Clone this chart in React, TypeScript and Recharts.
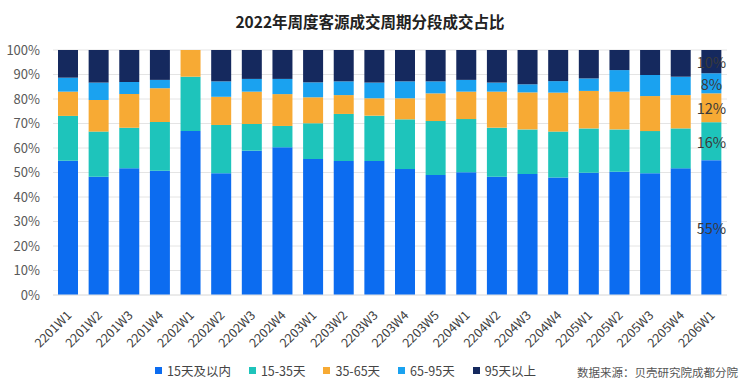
import { BarChart, Bar, XAxis, YAxis, CartesianGrid, Legend, LabelList } from "recharts";

const categories = [
  "2201W1", "2201W2", "2201W3", "2201W4", "2202W1", "2202W2", "2202W3", "2202W4",
  "2203W1", "2203W2", "2203W3", "2203W4", "2203W5", "2204W1", "2204W2", "2204W3",
  "2204W4", "2205W1", "2205W2", "2205W3", "2205W4", "2206W1",
];

const within15 = [54.8, 48.3, 51.7, 50.7, 66.9, 49.7, 58.9, 60.3, 55.5, 54.7, 54.7, 51.4, 49.0, 50.1, 48.3, 49.4, 48.0, 49.9, 50.3, 49.7, 51.7, 55.1];
const days15to35 = [18.3, 18.4, 16.6, 19.9, 22.2, 19.7, 10.9, 8.7, 14.6, 19.2, 18.5, 20.3, 22.0, 21.7, 20.0, 18.2, 18.7, 18.1, 17.3, 17.2, 16.3, 15.5];
const days35to65 = [9.9, 12.9, 13.7, 13.8, 10.9, 11.5, 13.2, 13.0, 10.6, 7.7, 7.1, 8.6, 11.3, 11.2, 14.7, 15.1, 15.9, 15.3, 15.4, 14.3, 13.6, 11.8];
const days65to95 = [5.7, 7.1, 4.9, 3.4, 0, 6.3, 5.2, 6.2, 6.1, 5.6, 6.4, 6.9, 4.9, 4.8, 3.7, 3.3, 4.7, 5.1, 8.8, 8.6, 7.5, 8.2];
const over95 = [11.3, 13.3, 13.1, 12.2, 0, 12.8, 11.8, 11.8, 13.2, 12.8, 13.3, 12.8, 12.8, 12.2, 13.3, 14.0, 12.7, 11.6, 8.2, 10.2, 10.9, 9.5];

const seriesNames = ["15天及以内", "15-35天", "35-65天", "65-95天", "95天以上"];
const seriesKeys = ["a", "b", "c", "d", "e"];
const seriesValues = [within15, days15to35, days35to65, days65to95, over95];
const seriesColors = ["#0c6cf0", "#1ec4bb", "#f7aa34", "#1aa2f0", "#15295e"];
const yTicks = [0, 0.1, 0.2, 0.3, 0.4, 0.5, 0.6, 0.7, 0.8, 0.9, 1];

const lastIndex = categories.length - 1;

// values for the stacks, plus a label field only on the last week
const data = categories.map((name, i) => {
  const row: any = { name };
  seriesKeys.forEach((k, s) => {
    row[k] = seriesValues[s][i];
    row[k + "Label"] = i === lastIndex ? Math.round(seriesValues[s][i]) + "%" : undefined;
  });
  return row;
});

const FONT = "'Noto Sans CJK SC', 'Noto Sans', sans-serif";

const XTick = (props: any) => {
  const { x, y, payload } = props;
  return (
    <g transform={`translate(${x + 4},${y + 19})`}>
      <text x={0} y={0} textAnchor="end" transform="rotate(-45)" fill="#404040" fontSize={12.5} fontFamily={FONT}>
        {payload.value}
      </text>
    </g>
  );
};

const renderLastLabel = (props: any) => {
  const { x, y, width, height, value } = props;
  if (value === undefined || value === null || value === "") return null;
  return (
    <text
      x={x + width / 2}
      y={y + height / 2}
      textAnchor="middle"
      dominantBaseline="central"
      fill="#3a3a3a"
      fontSize={14.5}
      fontFamily={FONT}
    >
      {value}
    </text>
  );
};

const renderLegend = () => (
  <div style={{ position: "relative", height: 20, width: 740, fontFamily: FONT }}>
    <div style={{ position: "absolute", left: 155, top: 0, height: 20, display: "flex", alignItems: "center" }}>
      {seriesNames.map((n, i) => (
        <div key={n} style={{ display: "flex", alignItems: "center", marginRight: 18 }}>
          <span style={{ width: 7, height: 7, background: seriesColors[i], display: "inline-block", marginRight: 5 }} />
          <span style={{ fontSize: 12.5, color: "#444" }}>{n}</span>
        </div>
      ))}
    </div>
    <div style={{ position: "absolute", left: 577, top: 4, fontSize: 11.5, color: "#555", whiteSpace: "nowrap" }}>
      数据来源：贝壳研究院成都分院
    </div>
  </div>
);

export default function App() {
  return (
    <div style={{ position: "absolute", left: 0, top: 0, width: 740, height: 388, background: "#fff", fontFamily: FONT }}>
      <div
        style={{
          position: "absolute",
          top: 10,
          left: 0,
          width: 740,
          textAlign: "center",
          fontSize: 15.5,
          fontWeight: "bold",
          color: "#222",
        }}
      >
        2022年周度客源成交周期分段成交占比
      </div>
      <BarChart
        width={740}
        height={388}
        data={data}
        stackOffset="expand"
        margin={{ top: 50, right: 13, left: 0, bottom: 8 }}
        barSize={20}
      >
        <CartesianGrid vertical={false} stroke="#e4e4e4" />
        <XAxis
          dataKey="name"
          interval={0}
          height={65}
          tickLine={false}
          axisLine={{ stroke: "#e4e4e4" }}
          tickSize={0}
          tick={<XTick />}
        />
        <YAxis
          width={53}
          domain={[0, 1]}
          ticks={yTicks}
          tickFormatter={(v: number) => Math.round(v * 100) + "%"}
          axisLine={false}
          tickLine={false}
          tickSize={0}
          tickMargin={13}
          tick={{ fill: "#595959", fontSize: 13, fontFamily: FONT }}
        />
        <Legend verticalAlign="bottom" content={renderLegend} wrapperStyle={{ left: 0, width: 740 }} />
        {seriesKeys.map((k, i) => (
          <Bar key={k} dataKey={k} name={seriesNames[i]} stackId="s" fill={seriesColors[i]} isAnimationActive={false}>
            <LabelList dataKey={k + "Label"} content={renderLastLabel} />
          </Bar>
        ))}
      </BarChart>
    </div>
  );
}
